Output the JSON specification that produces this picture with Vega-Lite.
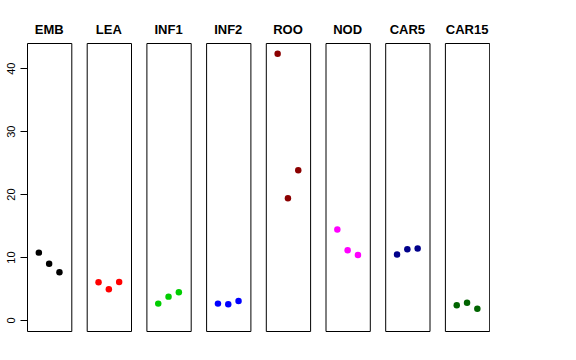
{
  "$schema": "https://vega.github.io/schema/vega-lite/v6.json",
  "autosize": {"type": "pad"},
  "padding": {"left": 5, "top": 24, "right": 0, "bottom": 0},
  "background": "white",
  "bounds": "flush",
  "data": {"values": [
    {"tissue": "EMB", "x": 1, "value": 10.7},
    {"tissue": "EMB", "x": 2, "value": 8.95},
    {"tissue": "EMB", "x": 3, "value": 7.58},
    {"tissue": "LEA", "x": 1, "value": 6.0},
    {"tissue": "LEA", "x": 2, "value": 4.88},
    {"tissue": "LEA", "x": 3, "value": 6.04},
    {"tissue": "INF1", "x": 1, "value": 2.6},
    {"tissue": "INF1", "x": 2, "value": 3.71},
    {"tissue": "INF1", "x": 3, "value": 4.4},
    {"tissue": "INF2", "x": 1, "value": 2.6},
    {"tissue": "INF2", "x": 2, "value": 2.5},
    {"tissue": "INF2", "x": 3, "value": 3.02},
    {"tissue": "ROO", "x": 1, "value": 42.3},
    {"tissue": "ROO", "x": 2, "value": 19.35},
    {"tissue": "ROO", "x": 3, "value": 23.8},
    {"tissue": "NOD", "x": 1, "value": 14.36},
    {"tissue": "NOD", "x": 2, "value": 11.08},
    {"tissue": "NOD", "x": 3, "value": 10.33},
    {"tissue": "CAR5", "x": 1, "value": 10.39},
    {"tissue": "CAR5", "x": 2, "value": 11.24},
    {"tissue": "CAR5", "x": 3, "value": 11.34},
    {"tissue": "CAR15", "x": 1, "value": 2.33},
    {"tissue": "CAR15", "x": 2, "value": 2.75},
    {"tissue": "CAR15", "x": 3, "value": 1.8}
  ]},
  "facet": {
    "column": {
      "field": "tissue",
      "type": "nominal",
      "sort": ["EMB", "LEA", "INF1", "INF2", "ROO", "NOD", "CAR5", "CAR15"],
      "title": null,
      "header": {
        "labelFont": "Liberation Sans",
        "labelFontSize": 13,
        "labelFontWeight": "bold",
        "labelColor": "black",
        "labelPadding": 6
      }
    }
  },
  "spacing": 14.7,
  "spec": {
    "width": 44.3,
    "height": 288,
    "mark": {"type": "point", "filled": true, "opacity": 1, "size": 42, "shape": "circle"},
    "encoding": {
      "x": {
        "field": "x",
        "type": "quantitative",
        "scale": {"domain": [-0.15, 4.15], "nice": false, "zero": false},
        "axis": null
      },
      "y": {
        "field": "value",
        "type": "quantitative",
        "scale": {"domain": [-1.75, 44], "nice": false, "zero": false},
        "axis": {
          "title": null,
          "values": [0, 10, 20, 30, 40],
          "grid": false,
          "domain": false,
          "tickColor": "black",
          "tickSize": 7,
          "labelAngle": 270,
          "labelAlign": "center",
          "labelBaseline": "bottom",
          "labelPadding": 4,
          "labelFont": "Liberation Sans",
          "labelFontSize": 11,
          "labelColor": "black"
        }
      },
      "color": {
        "field": "tissue",
        "type": "nominal",
        "scale": {
          "domain": ["EMB", "LEA", "INF1", "INF2", "ROO", "NOD", "CAR5", "CAR15"],
          "range": ["#000000", "#FF0000", "#00CD00", "#0000FF", "#8B0000", "#FF00FF", "#00008B", "#006400"]
        },
        "legend": null
      }
    }
  },
  "config": {
    "view": {"stroke": "black", "strokeWidth": 1}
  }
}
